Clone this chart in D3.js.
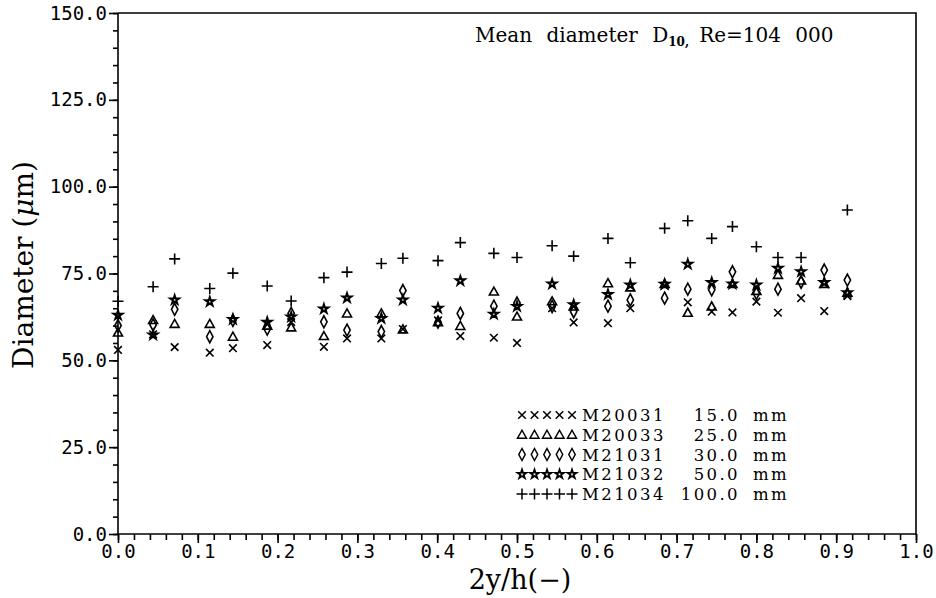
<!DOCTYPE html>
<html>
<head>
<meta charset="utf-8">
<script src="https://cdn.jsdelivr.net/npm/d3@7"></script>
<style>
  body { margin: 0; background: #fff; }
  svg { display: block; }
  .tick text { font-family: "DejaVu Sans Mono", monospace; font-size: 19px; fill: #000; }
  .domain, .tick line { stroke: #000; stroke-width: 1.6; }
  .serif { font-family: "DejaVu Serif", serif; }
</style>
</head>
<body>
<svg id="chart" width="936" height="598"></svg>
<script>
// positions 2y/h of the measuring stations
let stations = [0.0, 0.044, 0.071, 0.115, 0.144, 0.187, 0.217, 0.258, 0.287, 0.330, 0.357, 0.401, 0.429, 0.471,
  0.500, 0.544, 0.571, 0.614, 0.642, 0.685, 0.714, 0.744, 0.770, 0.800, 0.827, 0.856, 0.885, 0.914];

// mean diameter D10 (um) per series
let m20031 = [53, 57.5, 53.8, 52.2, 53.5, 54.4, 61, 53.9, 56.3, 56.3, 59, 61.5, 57.0, 56.5,
  55, 65, 60.9, 60.7, 65.0, 71.5, 66.7, 64.0, 63.8, 66.9, 63.7, 67.9, 64.2, 68.5];
let m20033 = [58, 61.6, 60.5, 60.5, 56.8, 60, 59.5, 57.0, 63.5, 63.5, 58.9, 61, 59.9, 69.8,
  62.6, 67, 65.5, 72.2, 71, 72, 63.7, 65.5, 72, 70, 74.6, 73, 72, 69.5];
let m21031 = [60, 60.2, 64.7, 56.8, 61.5, 59, 63.5, 61.1, 58.7, 58.3, 70.1, 61, 63.5, 65.6,
  66.5, 65.5, 64, 65.6, 67.4, 67.9, 70.5, 70.3, 75.5, 69.3, 70.5, 72.5, 76.0, 73.1];
let m21032 = [63, 57.3, 67.4, 66.9, 61.8, 61, 62.5, 64.8, 68.0, 62.1, 67.4, 65.0, 72.9, 63.3,
  65.5, 72.0, 66, 69.0, 71.7, 71.9, 77.7, 72.4, 72, 71.7, 76.5, 75.5, 72.4, 69.5];
let m21034 = [67, 71.2, 79.2, 70.7, 75.1, 71.4, 67.1, 73.8, 75.4, 77.9, 79.4, 78.7, 83.9, 80.8,
  79.6, 83.0, 80.0, 85.1, 78.1, 88.0, 90.2, 85.1, 88.5, 82.7, 79.6, 79.6, null, 93.3];

let seriesNames = ['M20031', 'M20033', 'M21031', 'M21032', 'M21034'];
let seriesSizes = ['15.0', '25.0', '30.0', '50.0', '100.0'];
let seriesSymbols = ['cross', 'triangle', 'diamond', 'star', 'plus'];
let seriesValues = [m20031, m20033, m21031, m21032, m21034];

let xTicks = [0, 0.1, 0.2, 0.3, 0.4, 0.5, 0.6, 0.7, 0.8, 0.9, 1.0];
let yTicks = [0, 25, 50, 75, 100, 125, 150];

let margin = {top: 13, right: 20, bottom: 64, left: 118};
let width = 936, height = 598;

let svg = d3.select('#chart');

let x = d3.scaleLinear().domain([0, 1]).range([margin.left, width - margin.right]);
let y = d3.scaleLinear().domain([0, 150]).range([height - margin.bottom, margin.top]);

let starPath = d3.symbol(d3.symbolStar, 24)();
function symbolPath(kind) {
	if (kind == 'cross') return 'M-3.8,-3.8L3.8,3.8M-3.8,3.8L3.8,-3.8';
	if (kind == 'triangle') return 'M0,-4.5L4.5,3.5L-4.5,3.5Z';
	if (kind == 'diamond') return 'M0,-6L3.2,0L0,6L-3.2,0Z';
	if (kind == 'star') return starPath;
	return 'M-5.5,0L5.5,0M0,-5.5L0,5.5';
}

// frame
svg.append('path')
	.attr('d', 'M' + x(0) + ',' + y(150) + 'H' + x(1) + 'V' + y(0))
	.attr('fill', 'none')
	.attr('stroke', '#000')
	.attr('stroke-width', 1.6);

// minor ticks
svg.append('g')
	.attr('transform', 'translate(' + x(0) + ',0)')
	.call(d3.axisLeft(y).tickValues(d3.range(0, 151, 5)).tickSize(5).tickFormat(''))
	.call(g => g.select('.domain').remove());
svg.append('g')
	.attr('transform', 'translate(0,' + y(0) + ')')
	.call(d3.axisBottom(x).tickValues(d3.range(0, 51).map(d => d / 50)).tickSize(6).tickFormat(''))
	.call(g => g.select('.domain').remove());

// major ticks + labels
svg.append('g')
	.attr('transform', 'translate(' + x(0) + ',0)')
	.call(d3.axisLeft(y).tickValues(yTicks).tickSize(9).tickPadding(2).tickFormat(d3.format('.1f')))
	.call(g => g.select('.domain').attr('d', 'M0,' + y(0) + 'V' + y(150)));
svg.append('g')
	.attr('transform', 'translate(0,' + y(0) + ')')
	.call(d3.axisBottom(x).tickValues(xTicks).tickSize(9).tickPadding(2).tickFormat(d3.format('.1f')))
	.call(g => g.select('.domain').attr('d', 'M' + x(0) + ',0H' + x(1)));

// points
seriesValues.forEach(function(vals, i) {
	let pts = stations.map((s, j) => ({x: s, v: vals[j]})).filter(d => d.v != null);
	let isStar = seriesSymbols[i] == 'star';
	svg.append('g')
		.selectAll('path')
		.data(pts)
		.enter()
		.append('path')
		.attr('d', symbolPath(seriesSymbols[i]))
		.attr('transform', d => 'translate(' + x(d.x) + ',' + y(d.v) + ')')
		.attr('fill', 'none')
		.attr('stroke', '#000')
		.attr('stroke-width', isStar ? 2 : 1.6);
});

// legend
let legend = svg.append('g');
let rowY = d3.scaleLinear().domain([0, 4]).range([415, 494]);
seriesNames.forEach(function(name, i) {
	let ly = rowY(i);
	for (let k = 0; k < 5; k++) {
		legend.append('path')
			.attr('d', symbolPath(seriesSymbols[i]))
			.attr('transform', 'translate(' + (522 + k * 12.5) + ',' + ly + ')')
			.attr('fill', 'none')
			.attr('stroke', '#000')
			.attr('stroke-width', seriesSymbols[i] == 'star' ? 1.8 : 1.5);
	}
	legend.append('text').attr('class', 'serif').attr('x', 582).attr('y', ly + 6)
		.style('font-size', '16.5px').style('letter-spacing', '2.4px')
		.text(name);
	legend.append('text').attr('class', 'serif').attr('x', 740).attr('y', ly + 6).attr('text-anchor', 'end')
		.style('font-size', '16.5px').style('letter-spacing', '2.4px')
		.text(seriesSizes[i]);
	legend.append('text').attr('class', 'serif').attr('x', 753).attr('y', ly + 6)
		.style('font-size', '16.5px').style('letter-spacing', '2.4px')
		.text('mm');
});

// title
let title = svg.append('text')
	.attr('class', 'serif')
	.attr('x', 475).attr('y', 42)
	.style('font-size', '20px')
	.style('word-spacing', '8px');
title.append('tspan').text('Mean diameter D');
title.append('tspan').attr('dy', 4).style('font-size', '12px').style('font-weight', 'bold').text('10,');
title.append('tspan').attr('dy', -4).attr('dx', 10).text('Re=104 000');

// axis titles
let yTitle = svg.append('text')
	.attr('class', 'serif')
	.attr('transform', 'translate(33,265) rotate(-90)')
	.attr('text-anchor', 'middle')
	.style('font-size', '28px');
yTitle.append('tspan').text('Diameter (');
yTitle.append('tspan').style('font-style', 'italic').text('μ');
yTitle.append('tspan').text('m)');

svg.append('text')
	.attr('class', 'serif')
	.attr('x', 520).attr('y', 589)
	.attr('text-anchor', 'middle')
	.style('font-size', '27px')
	.text('2y/h(\u2212)');
</script>
</body>
</html>
